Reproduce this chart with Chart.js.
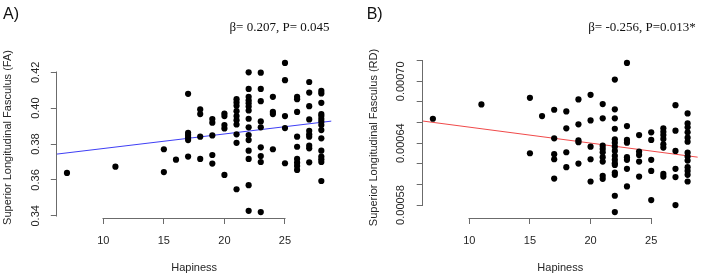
<!DOCTYPE html>
<html><head><meta charset="utf-8">
<script src="https://cdn.jsdelivr.net/npm/chart.js@4"></script>
<style>
html,body{margin:0;padding:0;background:#fff;}
#wrap{position:relative;width:707px;height:278px;overflow:hidden;}
#ca{position:absolute;left:0;top:0;}
#cb{position:absolute;left:353px;top:0;}
</style></head><body>
<div id="wrap"><canvas id="ca" width="353" height="278"></canvas><canvas id="cb" width="354" height="278"></canvas></div>
<script>
// ---- data ----
const hapinessLevels = [7, 11, 15, 16, 17, 18, 19, 20, 21, 22, 23, 24, 25, 26, 27, 28];
const faByLevel = [
  [0.3639],
  [0.3674],
  [0.3771, 0.3644],
  [0.3713],
  [0.408, 0.3863, 0.385, 0.3837, 0.3822, 0.373],
  [0.3993, 0.3967, 0.3841, 0.3717],
  [0.3939, 0.3919, 0.3848, 0.3739, 0.3691],
  [0.397, 0.3956, 0.3906, 0.3887, 0.3628],
  [0.405, 0.4032, 0.4013, 0.3983, 0.3956, 0.3933, 0.3909, 0.3854, 0.3807, 0.3548],
  [0.42, 0.4107, 0.4063, 0.4044, 0.4028, 0.4009, 0.3987, 0.3941, 0.3893, 0.385, 0.3822, 0.3763, 0.3717, 0.3571, 0.3428],
  [0.4198, 0.4107, 0.4039, 0.3926, 0.3893, 0.3782, 0.3733, 0.37, 0.3421],
  [0.4063, 0.3979, 0.3967, 0.3771],
  [0.4252, 0.4156, 0.3956, 0.3889, 0.3693],
  [0.4063, 0.405, 0.3979, 0.3841, 0.3785, 0.3717, 0.3696, 0.3678, 0.3656],
  [0.4146, 0.4087, 0.4011, 0.3937, 0.3874, 0.3854, 0.3841, 0.3791, 0.3776, 0.3698],
  [0.4096, 0.4082, 0.403, 0.3967, 0.3956, 0.3939, 0.3924, 0.3906, 0.3878, 0.3832, 0.3763, 0.373, 0.3715, 0.37, 0.3594]
];
const rdByLevel = [
  [0.0006637],
  [0.0006776],
  [0.000684, 0.0006302],
  [0.0006663],
  [0.0006724, 0.0006447, 0.0006293, 0.0006244, 0.0006057],
  [0.0006708, 0.0006544, 0.0006312, 0.0006167],
  [0.0006824, 0.0006583, 0.0006428, 0.0006409, 0.0006202],
  [0.0006869, 0.0006621, 0.0006366, 0.0006244, 0.0006028],
  [0.0006779, 0.0006641, 0.0006376, 0.0006344, 0.0006312, 0.0006264, 0.0006221, 0.0006083, 0.0006054],
  [0.0007017, 0.0006728, 0.0006641, 0.000654, 0.0006438, 0.0006405, 0.0006366, 0.0006325, 0.0006276, 0.0006238, 0.0006206, 0.0006189, 0.0006115, 0.0006093, 0.000589, 0.0005732],
  [0.0007178, 0.0006566, 0.0006431, 0.0006405, 0.0006264, 0.0006238, 0.0006151, 0.000598],
  [0.0006479, 0.0006318, 0.0006286, 0.0006221, 0.0006076],
  [0.0006505, 0.0006431, 0.0006238, 0.0006131, 0.0005848],
  [0.0006544, 0.0006511, 0.0006479, 0.0006441, 0.0006389, 0.0006357, 0.0006102, 0.0006076],
  [0.0006769, 0.0006521, 0.0006325, 0.0006151, 0.0006071, 0.00058],
  [0.0006689, 0.0006592, 0.0006554, 0.0006505, 0.0006453, 0.0006414, 0.0006308, 0.000627, 0.0006231, 0.0006167, 0.0006131, 0.0006093, 0.0006028]
];
const fitA = [0.3694, 0.000811];          // intercept, slope (blue line)
const fitB = [0.000671, -0.000001546];    // intercept, slope (red line)
const xTickValues = [10, 15, 20, 25];
const yTickValuesA = [0.34, 0.36, 0.38, 0.40, 0.42];
const yTickValuesB = [0.00058, 0.00060, 0.00062, 0.00064, 0.00066, 0.00068, 0.00070, 0.00072];
const yLabeledB = [0.00058, 0.00064, 0.00070];
const panelLabels = ['A)', 'B)'];
const statTexts = ['\u03B2= 0.207, P= 0.045', '\u03B2= -0.256, P=0.013*'];
const yTitles = ['Superior Longitudinal Fasculus (FA)', 'Superior Longitudinal Fasculus (RD)'];
const xTitle = 'Hapiness';

// ---- helpers ----
const AXIS = '#6b6b6b';
const TXT = '#262626';
const SANS = '"Liberation Sans", Arial, sans-serif';
const SERIF = '"Liberation Serif", "Times New Roman", serif';

function toPoints(levels, groups) {
  const pts = [];
  levels.forEach((lv, i) => groups[i].forEach(v => pts.push({x: lv, y: v})));
  return pts;
}
function rLimits(vals) { // R default axis extension of 4%
  const mn = Math.min(...vals), mx = Math.max(...vals), d = (mx - mn) * 0.04;
  return [mn - d, mx + d];
}

const rAxes = {
  id: 'rAxes',
  afterDraw(chart, args, o) {
    const {ctx, chartArea, scales: {x, y}} = chart;
    ctx.save();
    ctx.strokeStyle = AXIS; ctx.lineWidth = 1;
    ctx.beginPath();
    const yb = Math.round(chartArea.bottom) + 0.5;
    ctx.moveTo(Math.round(x.getPixelForValue(o.xt[0])) - 0.5, yb);
    ctx.lineTo(Math.round(x.getPixelForValue(o.xt[o.xt.length - 1])) + 0.5, yb);
    const xl = Math.round(chartArea.left) - 0.5;
    ctx.moveTo(xl, Math.round(y.getPixelForValue(o.yt[0])) + 0.5);
    ctx.lineTo(xl, Math.round(y.getPixelForValue(o.yt[o.yt.length - 1])) - 0.5);
    ctx.stroke();
    ctx.fillStyle = '#111';
    ctx.textBaseline = 'alphabetic';
    ctx.textAlign = 'left';
    ctx.font = '16px ' + SANS;
    ctx.fillText(o.panel, o.panelX, 18.5);
    ctx.textAlign = 'right';
    ctx.font = '13px ' + SERIF;
    ctx.fillText(o.stat, chartArea.right - 2, 31);
    ctx.restore();
  }
};

function makeChart(id, pts, fit, lineColor, yt, yLabel, cfg) {
  const xl = rLimits(pts.map(p => p.x));
  const yl = rLimits(pts.map(p => p.y));
  const linePts = xl.map(xv => ({x: xv, y: fit[0] + fit[1] * xv}));
  return new Chart(document.getElementById(id), {
    type: 'scatter',
    data: {
      datasets: [
        {data: pts, backgroundColor: '#000', borderColor: '#000', borderWidth: 0, pointRadius: 3.1, pointHoverRadius: 3.1},
        {type: 'line', data: linePts, borderColor: lineColor, borderWidth: 1, pointRadius: 0, fill: false, tension: 0}
      ]
    },
    options: {
      responsive: false, animation: false, devicePixelRatio: 1,
      layout: {padding: {left: 0, right: cfg.padRight, top: 57, bottom: 0}},
      plugins: {legend: {display: false}, tooltip: {enabled: false},
        rAxes: {xt: xTickValues, yt: yt, panel: cfg.panel, panelX: cfg.panelX, stat: cfg.stat}},
      scales: {
        x: {
          type: 'linear', position: 'bottom', min: xl[0], max: xl[1],
          afterBuildTicks: s => { s.ticks = xTickValues.map(v => ({value: v})); },
          afterFit: s => { s.height = 60; },
          grid: {display: true, drawOnChartArea: false, drawTicks: true, tickLength: 6, color: AXIS, lineWidth: 1},
          border: {display: false},
          ticks: {autoSkip: false, maxRotation: 0, minRotation: 0, padding: 10, color: TXT, font: {family: SANS, size: 11}, callback: v => String(v)},
          title: {display: true, text: xTitle, color: TXT, font: {family: SANS, size: 11}, padding: {top: 0, bottom: 3.6}}
        },
        y: {
          type: 'linear', position: 'left', min: yl[0], max: yl[1],
          afterBuildTicks: s => { s.ticks = yt.map(v => ({value: v})); },
          afterFit: s => { s.width = cfg.yWidth; },
          grid: {display: true, drawOnChartArea: false, drawTicks: true, tickLength: 6, color: AXIS, lineWidth: 1},
          border: {display: false},
          ticks: {autoSkip: false, minRotation: 90, maxRotation: 90, crossAlign: 'center', padding: cfg.tickPad,
            color: TXT, font: {family: SANS, size: 11}, callback: yLabel},
          title: {display: true, text: cfg.yTitle, color: TXT, font: {family: SANS, size: 11}, padding: {top: cfg.titlePad, bottom: 0}}
        }
      }
    },
    plugins: [rAxes]
  });
}

const ptsA = toPoints(hapinessLevels, faByLevel);
const ptsB = toPoints(hapinessLevels, rdByLevel);

makeChart('ca', ptsA, fitA, '#3f3ff5', yTickValuesA,
  v => v.toFixed(2),
  {padRight: 21.5, yWidth: 56.8, tickPad: 4.6, titlePad: 1.4, panel: panelLabels[0], panelX: 3, stat: statTexts[0], yTitle: yTitles[0]});

makeChart('cb', ptsB, fitB, '#f04a4a', yTickValuesB,
  v => yLabeledB.some(t => Math.abs(t - v) < 1e-9) ? v.toFixed(5) : '',
  {padRight: 9.2, yWidth: 69.7, tickPad: -4.2, titlePad: 13.9, panel: panelLabels[1], panelX: 13.7, stat: statTexts[1], yTitle: yTitles[1]});
</script>
</body></html>
